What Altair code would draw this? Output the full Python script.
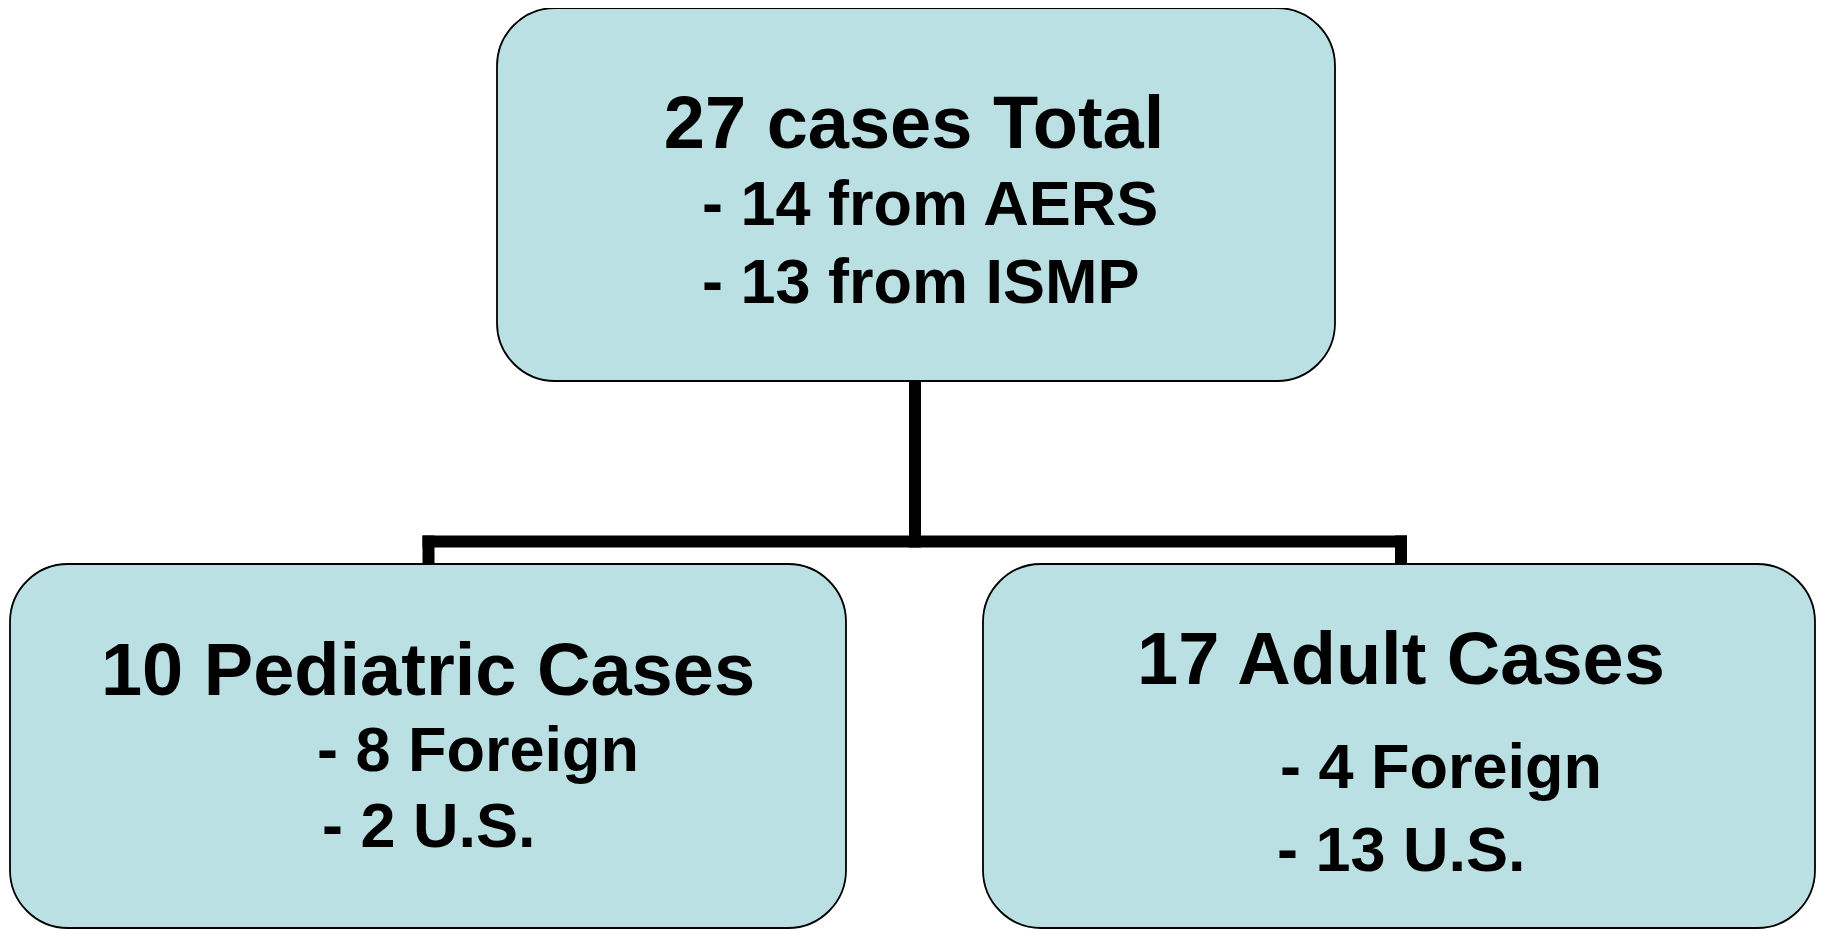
import altair as alt
import pandas as pd

# ---- content ----
box_titles = ["27 cases Total", "10 Pediatric Cases", "17 Adult Cases"]
box_line1 = ["- 14 from AERS", "- 8 Foreign", "- 4 Foreign"]
box_line2 = ["- 13 from ISMP", "- 2 U.S.", "- 13 U.S."]

# ---- layout (screen pixels) ----
box_x0 = [497, 10, 983]
box_x1 = [1335, 846, 1815]
box_y0 = [8, 564, 564]
box_y1 = [381, 928, 928]

title_cx = [914, 428, 1401]
title_base = [148, 695, 684]
line1_left = [702, 317, 1280]
line1_base = [225, 771, 788]
line2_left = [702, 322, 1277]
line2_base = [303, 847, 871]

conn_x0 = [915, 428.5, 428.5, 1401]
conn_x1 = [915, 1401, 428.5, 1401]
conn_y0 = [381, 541.5, 541.5, 541.5]
conn_y1 = [541.5, 541.5, 564, 564]

FILL = "#BAE0E3"
FONT = "Liberation Sans"

xs = alt.Scale(domain=[8, 1817])
ys = alt.Scale(domain=[8, 929], reverse=True)

boxes = pd.DataFrame({"x": box_x0, "x2": box_x1, "y": box_y0, "y2": box_y1})
conns = pd.DataFrame({"x": conn_x0, "x2": conn_x1, "y": conn_y0, "y2": conn_y1})
titles = pd.DataFrame({"t": box_titles, "x": title_cx, "y": title_base})
subs = pd.DataFrame({
    "t": box_line1 + box_line2,
    "x": line1_left + line2_left,
    "y": line1_base + line2_base,
})

rule = alt.Chart(conns).mark_rule(strokeWidth=12, color="black", strokeCap="square").encode(
    x=alt.X("x:Q", scale=xs, axis=None),
    x2="x2:Q",
    y=alt.Y("y:Q", scale=ys, axis=None),
    y2="y2:Q",
)

rect = alt.Chart(boxes).mark_rect(
    fill=FILL, stroke="black", strokeWidth=1.8, cornerRadius=58
).encode(
    x=alt.X("x:Q", scale=xs, axis=None),
    x2="x2:Q",
    y=alt.Y("y:Q", scale=ys, axis=None),
    y2="y2:Q",
)

title_text = alt.Chart(titles).mark_text(
    font=FONT, fontWeight="bold", fontSize=74, align="center", baseline="alphabetic", color="black"
).encode(
    x=alt.X("x:Q", scale=xs, axis=None),
    y=alt.Y("y:Q", scale=ys, axis=None),
    text="t:N",
)

sub_text = alt.Chart(subs).mark_text(
    font=FONT, fontWeight="bold", fontSize=63, align="left", baseline="alphabetic", color="black"
).encode(
    x=alt.X("x:Q", scale=xs, axis=None),
    y=alt.Y("y:Q", scale=ys, axis=None),
    text="t:N",
)

chart = alt.layer(rule, rect, title_text, sub_text).properties(
    width=1809, height=921, padding=0, autosize=alt.AutoSizeParams(type="none")
).configure_view(stroke=None)

chart.save("out.html", embed_options={"renderer": "svg", "actions": False})
